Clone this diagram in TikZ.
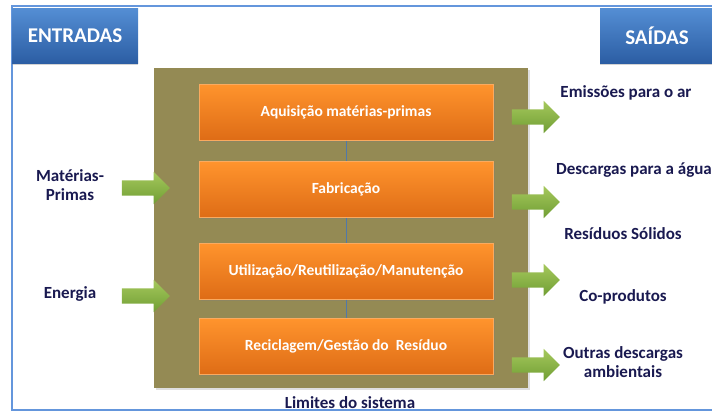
\documentclass[tikz,border=0pt]{standalone}
\usepackage{fontspec}
\setmainfont{Carlito}
\usetikzlibrary{shapes,arrows,shadows}
\definecolor{oliva}{RGB}{148,138,84}
\definecolor{laranjaC}{RGB}{255,148,45}
\definecolor{laranjaE}{RGB}{222,108,22}
\definecolor{laranjaB}{RGB}{250,170,95}
\definecolor{verdeC}{RGB}{165,200,92}
\definecolor{verdeE}{RGB}{112,158,52}
\definecolor{azulC}{RGB}{84,142,212}
\definecolor{azulE}{RGB}{44,94,164}
\definecolor{moldura}{RGB}{100,150,220}
\definecolor{ligacao}{RGB}{80,120,170}
\definecolor{tinta}{RGB}{25,25,80}
\tikzset{
  aba/.style={rectangle, top color=azulC, bottom color=azulE, text=white,
    font=\bfseries\fontsize{21}{23}\selectfont, minimum height=55pt,
    drop shadow={opacity=0.35, shadow xshift=0pt, shadow yshift=-2pt}},
  etapa/.style={rectangle, draw=laranjaB, line width=1pt, top color=laranjaC,
    bottom color=laranjaE, text=white, font=\bfseries\fontsize{15.5}{17}\selectfont,
    minimum width=294pt, minimum height=56pt,
    drop shadow={opacity=0.3, shadow xshift=1.5pt, shadow yshift=-1.5pt}},
  seta/.style={single arrow, single arrow head extend=8.5pt, single arrow head indent=0pt,
    inner xsep=0pt, inner ysep=7.5pt, minimum height=48pt,
    top color=verdeC, bottom color=verdeE},
  rotulo/.style={text=tinta, font=\bfseries\fontsize{17}{19}\selectfont, align=center}
}
\begin{document}
\begin{tikzpicture}[x=1pt,y=-1pt]
\useasboundingbox (0,0) rectangle (712,418);
\draw[moldura, line width=1.5pt] (712,6) -- (12,6) -- (12,410) -- (712,410);
\node[aba, minimum width=126pt] (entradas) at (75,35.5) {ENTRADAS};
\node[aba, minimum width=114pt] (saidas) at (657,35.5) {SAÍDAS};

\node[rectangle, fill=oliva, minimum width=374pt, minimum height=320pt,
  drop shadow={opacity=0.25, shadow xshift=1.5pt, shadow yshift=-1.5pt}] (sistema) at (341,228) {};
\node[rotulo] (limites) at (350,403) {Limites do sistema};

\node[etapa] (aquisicao) at (346,112) {Aquisição matérias-primas};
\node[etapa] (fabricacao) at (346,189.5) {Fabricação};
\node[etapa] (utilizacao) at (346,271) {Utilização/Reutilização/Manutenção};
\node[etapa] (reciclagem) at (346,346.5) {Reciclagem/Gestão do\ \ Resíduo};
\draw[ligacao, line width=1pt] (aquisicao) -- (fabricacao);
\draw[ligacao, line width=1pt] (fabricacao) -- (utilizacao);
\draw[ligacao, line width=1pt] (utilizacao) -- (reciclagem);

\node[rotulo] (materias) at (70,185) {Matérias-\\Primas};
\node[rotulo] (energia) at (70,294) {Energia};
\node[seta] (setaMaterias) at (142,188) {};
\node[seta] (setaEnergia) at (142,296) {};

\node[seta] (setaAr) at (532,117) {};
\node[seta] (setaAgua) at (532,202) {};
\node[seta] (setaCo) at (532,280) {};
\node[seta] (setaOutras) at (532,365) {};
\node[rotulo] (ar) at (626,93) {Emissões para o ar};
\node[rotulo] (agua) at (634,170) {Descargas para a água};
\node[rotulo] (solidos) at (623,234) {Resíduos Sólidos};
\node[rotulo] (coprodutos) at (623,297) {Co-produtos};
\node[rotulo] (outras) at (623,362) {Outras descargas\\ambientais};
\end{tikzpicture}
\end{document}
